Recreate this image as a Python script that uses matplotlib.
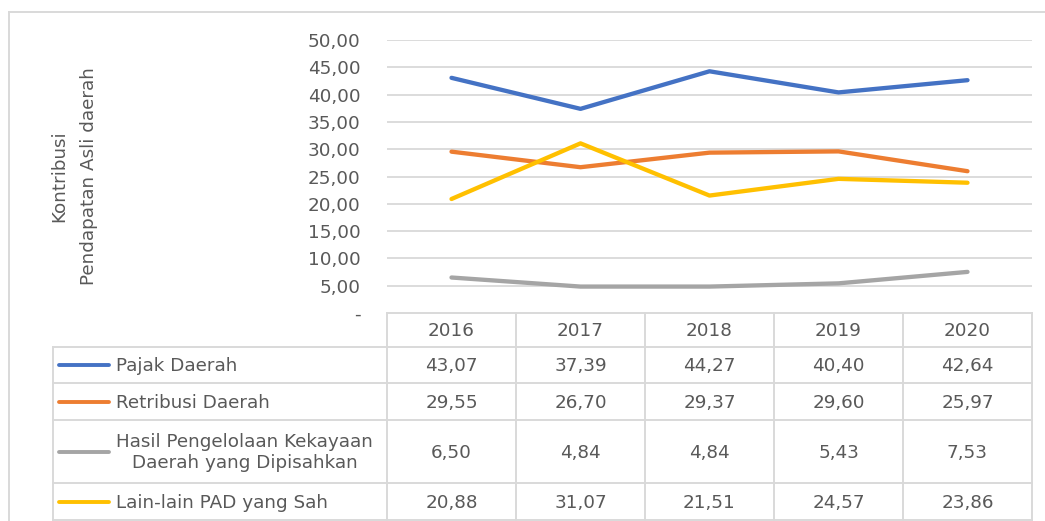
import matplotlib.pyplot as plt
from matplotlib.lines import Line2D
from matplotlib.transforms import blended_transform_factory

# data — Kontribusi PAD per komponen (%)
YEARS = ["2016", "2017", "2018", "2019", "2020"]
SERIES_NAMES = [
    "Pajak Daerah",
    "Retribusi Daerah",
    "Hasil Pengelolaan Kekayaan\nDaerah yang Dipisahkan",
    "Lain-lain PAD yang Sah",
]
PAJAK = [43.07, 37.39, 44.27, 40.40, 42.64]
RETRIBUSI = [29.55, 26.70, 29.37, 29.60, 25.97]
HASIL = [6.50, 4.84, 4.84, 5.43, 7.53]
LAIN = [20.88, 31.07, 21.51, 24.57, 23.86]
Y_TICKS = [0, 5, 10, 15, 20, 25, 30, 35, 40, 45, 50]
Y_LABEL = "Kontribusi\nPendapatan Asli daerah"

COLORS = ["#4472C4", "#ED7D31", "#A5A5A5", "#FFC000"]
TEXT_C = "#595959"
GRID_C = "#D9D9D9"
FS = 13.2

W, H = 1045, 521


def fx(px):
    return px / W


def fy(py):
    return 1 - py / H


def fmt(v):
    return f"{v:.2f}".replace(".", ",")


fig = plt.figure(figsize=(W / 100, H / 100), dpi=100)
plt.rcParams["font.family"] = ["DejaVu Sans"]

# outer frame
fig.add_artist(Line2D([fx(9), fx(9)], [fy(12), 0], color=GRID_C, lw=1.4))
fig.add_artist(Line2D([fx(9), 1], [fy(12), fy(12)], color=GRID_C, lw=1.4))

# plot area
x0, x1 = 387, 1032
ax = fig.add_axes([fx(x0), fy(313), fx(x1 - x0), fy(40) - fy(313)])
values = [PAJAK, RETRIBUSI, HASIL, LAIN]
xs = list(range(len(YEARS)))
for vals, c in zip(values, COLORS):
    ax.plot(xs, vals, color=c, lw=3.1, solid_capstyle="round", zorder=3)
ax.set_xlim(-0.5, len(YEARS) - 0.5)
ax.set_ylim(Y_TICKS[0], Y_TICKS[-1])
ax.set_yticks(Y_TICKS)
ax.set_yticklabels(["-"] + [fmt(t) for t in Y_TICKS[1:]])
ax.set_xticks([])
ax.tick_params(axis="y", length=0, pad=19, labelsize=FS, labelcolor=TEXT_C)
for t in Y_TICKS[1:]:
    ax.axhline(t, color=GRID_C, lw=1.3, zorder=1)
for s in ax.spines.values():
    s.set_visible(False)

fig.text(fx(74), fy(176), Y_LABEL, rotation=90, ha="center", va="center",
         multialignment="center", fontsize=FS, color=TEXT_C, linespacing=1.8)

# data table under the plot (rows in pixel offsets from 313)
row_edges = [0, 34, 70, 107, 170, 207]
tab = fig.add_axes([fx(x0), fy(520), fx(x1 - x0), fy(313) - fy(520)])
tab.set_xlim(-0.5, len(YEARS) - 0.5)
tab.set_ylim(row_edges[-1], 0)
tab.axis("off")

lkw = dict(color=GRID_C, lw=1.4, clip_on=False, solid_capstyle="projecting")
# horizontal rules
tab.plot([-0.5, len(YEARS) - 0.5], [0, 0], **lkw)
left_tr = blended_transform_factory(fig.transFigure, tab.transData)
for e in row_edges[1:]:
    tab.plot([-0.5, len(YEARS) - 0.5], [e, e], **lkw)
    tab.plot([fx(53), fx(x0)], [e, e], transform=left_tr, **lkw)
# vertical rules
for i in range(len(YEARS) + 1):
    tab.plot([i - 0.5, i - 0.5], [0, row_edges[-1]], **lkw)
tab.plot([fx(53), fx(53)], [row_edges[1], row_edges[-1]], transform=left_tr, **lkw)

for i, yr in enumerate(YEARS):
    tab.text(i, (row_edges[0] + row_edges[1]) / 2 + 1, yr, ha="center", va="center",
             fontsize=FS, color=TEXT_C)

for r, (name, vals, c) in enumerate(zip(SERIES_NAMES, values, COLORS)):
    yc = (row_edges[r + 1] + row_edges[r + 2]) / 2 + 1
    for i, v in enumerate(vals):
        tab.text(i, yc, fmt(v), ha="center", va="center", fontsize=FS, color=TEXT_C)
    tab.plot([fx(59), fx(109)], [yc - 1, yc - 1], transform=left_tr, color=c,
             lw=2.8, clip_on=False, solid_capstyle="round")
    tab.text(fx(116), yc, name, transform=left_tr, ha="left", va="center",
             multialignment="center", fontsize=FS, color=TEXT_C, linespacing=1.25)

fig.savefig("out.png", dpi=100)
